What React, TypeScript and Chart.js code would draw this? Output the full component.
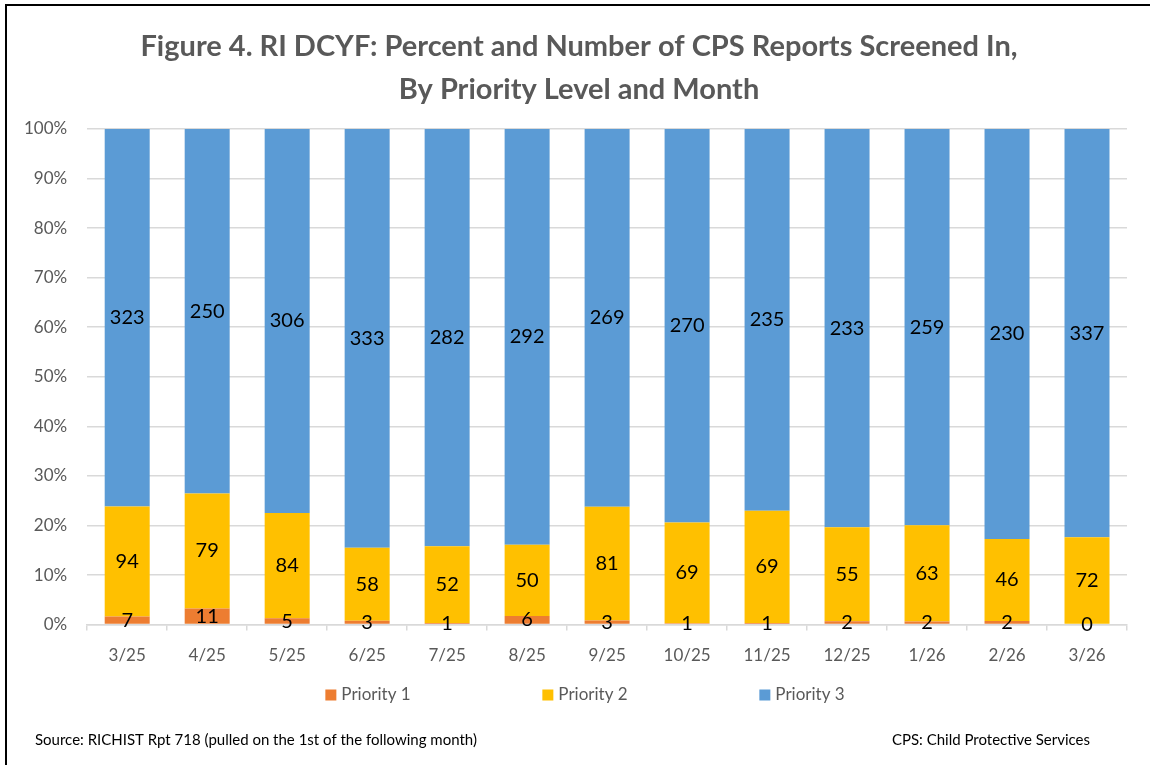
import React, { useEffect, useRef } from "react";
import { Chart, registerables } from "chart.js";

Chart.register(...registerables);

const months = ["3/25", "4/25", "5/25", "6/25", "7/25", "8/25", "9/25", "10/25", "11/25", "12/25", "1/26", "2/26", "3/26"];
const priority1 = [7, 11, 5, 3, 1, 6, 3, 1, 1, 2, 2, 2, 0];
const priority2 = [94, 79, 84, 58, 52, 50, 81, 69, 69, 55, 63, 46, 72];
const priority3 = [323, 250, 306, 333, 282, 292, 269, 270, 235, 233, 259, 230, 337];
const seriesNames = ["Priority 1", "Priority 2", "Priority 3"];
const seriesColors = ["#ED7D31", "#FFC000", "#5B9BD5"];
const titleLines = ["Figure 4. RI DCYF: Percent and Number of CPS Reports Screened In,", "By Priority Level and Month"];
const sourceNote = "Source: RICHIST Rpt 718 (pulled on the 1st of the following month)";
const abbrevNote = "CPS: Child Protective Services";

const FONT = "Lato, 'Open Sans', sans-serif";

export default function App() {
  const ref = useRef<HTMLCanvasElement | null>(null);

  useEffect(() => {
    if (!ref.current) return;
    const counts = [priority1, priority2, priority3];
    const totals = months.map((_, i) => priority1[i] + priority2[i] + priority3[i]);
    const pct = counts.map((arr) => arr.map((v, i) => (v / totals[i]) * 100));

    const framePlugin = {
      id: "frame",
      beforeDraw(chart: any) {
        const ctx = chart.ctx;
        ctx.save();
        ctx.fillStyle = "#ffffff";
        ctx.fillRect(0, 0, chart.width, chart.height);
        ctx.strokeStyle = "#000000";
        ctx.lineWidth = 2;
        ctx.strokeRect(6, 5, chart.width + 10, chart.height + 10);
        ctx.restore();
      },
      afterDraw(chart: any) {
        const ctx = chart.ctx;
        ctx.save();
        // title
        ctx.fillStyle = "#595959";
        ctx.font = `bold 29px ${FONT}`;
        ctx.textAlign = "center";
        ctx.textBaseline = "middle";
        ctx.fillText(titleLines[0], 579, 47);
        ctx.fillText(titleLines[1], 579, 90);
        // legend
        const pitch = 217;
        const boxSize = 11;
        const centerX = 585;
        const legendY = 695;
        ctx.font = `17px ${FONT}`;
        ctx.textBaseline = "middle";
        ctx.textAlign = "left";
        const lastW = ctx.measureText(seriesNames[seriesNames.length - 1]).width;
        const totalW = pitch * (seriesNames.length - 1) + boxSize + 5 + lastW;
        const startX = centerX - totalW / 2;
        seriesNames.forEach((name, k) => {
          const bx = startX + k * pitch;
          ctx.fillStyle = seriesColors[k];
          ctx.fillRect(bx, legendY - boxSize / 2, boxSize, boxSize);
          ctx.fillStyle = "#595959";
          ctx.fillText(name, bx + boxSize + 5, legendY);
        });
        // footer notes
        ctx.fillStyle = "#000000";
        ctx.font = `15px ${FONT}`;
        ctx.textAlign = "left";
        ctx.fillText(sourceNote, 35, 740);
        ctx.textAlign = "right";
        ctx.fillText(abbrevNote, 1090, 740);
        ctx.restore();
      },
    };

    const labelPlugin = {
      id: "segLabels",
      afterDatasetsDraw(chart: any) {
        const ctx = chart.ctx;
        ctx.save();
        ctx.fillStyle = "#000000";
        ctx.font = `20px ${FONT}`;
        ctx.textAlign = "center";
        ctx.textBaseline = "middle";
        chart.data.datasets.forEach((ds: any, di: number) => {
          const meta = chart.getDatasetMeta(di);
          meta.data.forEach((el: any, i: number) => {
            const p = el.getProps(["x", "y", "base"], true);
            const cy = (p.y + p.base) / 2;
            ctx.fillText(String(counts[di][i]), p.x, cy);
          });
        });
        ctx.restore();
      },
    };

    const chart = new Chart(ref.current, {
      type: "bar",
      data: {
        labels: months,
        datasets: seriesNames.map((name, k) => ({
          label: name,
          data: pct[k],
          backgroundColor: seriesColors[k],
          borderWidth: 0,
          barPercentage: 0.5625,
          categoryPercentage: 1,
        })),
      },
      options: {
        responsive: false,
        animation: false,
        layout: { padding: { left: 4, right: 23, top: 129, bottom: 84 } },
        plugins: {
          title: { display: false },
          legend: { display: false },
          tooltip: { enabled: false },
        },
        scales: {
          x: {
            stacked: true,
            grid: { drawOnChartArea: false, drawTicks: true, tickLength: 6, color: "#d9d9d9", lineWidth: 1.5 },
            border: { display: true, color: "#d9d9d9", width: 1.5 },
            ticks: { color: "#595959", font: { family: FONT, size: 17 }, padding: 15 },
          },
          y: {
            stacked: true,
            min: 0,
            max: 100,
            grid: { color: "#d9d9d9", lineWidth: 1.5, drawTicks: false },
            border: { display: false },
            ticks: {
              stepSize: 10,
              padding: 20,
              color: "#595959",
              font: { family: FONT, size: 17 },
              callback: (v: any) => `${v}%`,
            },
          },
        },
      },
      plugins: [framePlugin, labelPlugin],
    } as any);
    return () => chart.destroy();
  }, []);

  return (
    <div style={{ position: "absolute", left: 0, top: 0, width: 1150, height: 765 }}>
      <canvas ref={ref} width={1150} height={765} style={{ width: 1150, height: 765 }} />
    </div>
  );
}
